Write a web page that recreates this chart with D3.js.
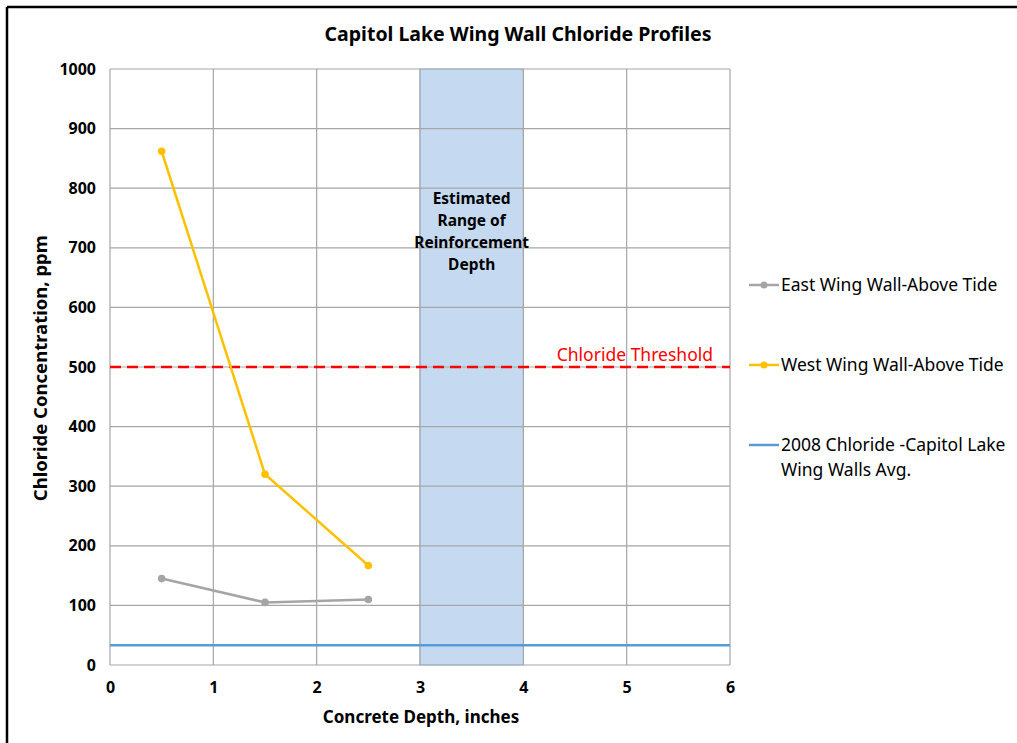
<!DOCTYPE html>
<html>
<head>
<meta charset="utf-8">
<script src="https://cdn.jsdelivr.net/npm/d3@7"></script>
<style>
  body { margin: 0; background: #fff; }
  text { font-family: "Noto Sans", "DejaVu Sans", sans-serif; }
</style>
</head>
<body>
<svg id="chart" width="1017" height="743"></svg>
<script>
//Data
var depths = [0.5, 1.5, 2.5];
var eastValues = [145, 105, 110];
var westValues = [862, 320, 167];
var avg2008 = 33;
var threshold = 500;
var bandRange = [3, 4];
var xTicks = [0, 1, 2, 3, 4, 5, 6];
var yTicks = [0, 100, 200, 300, 400, 500, 600, 700, 800, 900, 1000];
var seriesNames = ["East Wing Wall-Above Tide", "West Wing Wall-Above Tide", "2008 Chloride -Capitol Lake|Wing Walls Avg."];
var seriesColors = ["#a5a5a5", "#ffc000", "#5b9bd5"];
var bandLabel = ["Estimated", "Range of", "Reinforcement", "Depth"];

//Layout
var plot = {left: 110, right: 730, top: 69, bottom: 665};

var svg = d3.select("#chart");

// outer frame (left + top only)
svg.append("line").attr("x1", 7).attr("y1", 7).attr("x2", 1017).attr("y2", 7)
  .attr("stroke", "#000").attr("stroke-width", 2.5);
svg.append("line").attr("x1", 7).attr("y1", 7).attr("x2", 7).attr("y2", 743)
  .attr("stroke", "#000").attr("stroke-width", 2.5);

var x = d3.scaleLinear().domain([0, 6]).range([plot.left, plot.right]);
var y = d3.scaleLinear().domain([0, 1000]).range([plot.bottom, plot.top]);

// shaded reinforcement band
svg.append("rect")
  .attr("x", x(bandRange[0])).attr("y", y(1000))
  .attr("width", x(bandRange[1]) - x(bandRange[0]))
  .attr("height", y(0) - y(1000))
  .attr("fill", "#c5daf0").attr("stroke", "#9dc3e6").attr("stroke-width", 1);

// gridlines
var grid = svg.append("g");
grid.selectAll(".gx").data(xTicks).enter().append("line")
  .attr("x1", function(d){return x(d);}).attr("x2", function(d){return x(d);})
  .attr("y1", y(0)).attr("y2", y(1000))
  .attr("stroke", "#a6a6a6").attr("stroke-width", 1.2);
grid.selectAll(".gy").data(yTicks).enter().append("line")
  .attr("x1", x(0)).attr("x2", x(6))
  .attr("y1", function(d){return y(d);}).attr("y2", function(d){return y(d);})
  .attr("stroke", "#a6a6a6").attr("stroke-width", 1.2);

// axes labels via d3 axes
var xAxis = svg.append("g").attr("transform", "translate(0," + plot.bottom + ")")
  .call(d3.axisBottom(x).tickValues(xTicks).tickFormat(d3.format("d")).tickSize(0).tickPadding(17));
var yAxis = svg.append("g").attr("transform", "translate(" + plot.left + ",0)")
  .call(d3.axisLeft(y).tickValues(yTicks).tickFormat(d3.format("d")).tickSize(0).tickPadding(14));
[xAxis, yAxis].forEach(function(a){
  a.select(".domain").remove();
  a.selectAll("text").attr("font-family", "'Noto Sans', sans-serif")
    .attr("font-size", 16).attr("font-weight", "bold").attr("fill", "#000");
});

// band text
svg.append("text").attr("x", x(3.5)).attr("y", 204)
  .attr("text-anchor", "middle").attr("font-size", 15.5).attr("font-weight", "bold")
  .selectAll("tspan").data(bandLabel).enter().append("tspan")
  .attr("x", x(3.5)).attr("dy", function(d, i){return i === 0 ? 0 : 22;})
  .text(function(d){return d;});

// 2008 average line
svg.append("line").attr("x1", x(0)).attr("x2", x(6))
  .attr("y1", y(avg2008)).attr("y2", y(avg2008))
  .attr("stroke", seriesColors[2]).attr("stroke-width", 2.5);

// threshold
svg.append("line").attr("x1", x(0)).attr("x2", x(6))
  .attr("y1", y(threshold)).attr("y2", y(threshold))
  .attr("stroke", "#ff0000").attr("stroke-width", 2.5).attr("stroke-dasharray", "11,6");
svg.append("text").attr("x", 713).attr("y", y(threshold) - 6)
  .attr("text-anchor", "end").attr("font-size", 17.5).attr("fill", "#ff0000")
  .text("Chloride Threshold");

// series
var line = d3.line().x(function(d){return x(d[0]);}).y(function(d){return y(d[1]);});
[eastValues, westValues].forEach(function(vals, k){
  var pts = depths.map(function(d, i){return [d, vals[i]];});
  svg.append("path").datum(pts).attr("d", line).attr("fill", "none")
    .attr("stroke", seriesColors[k]).attr("stroke-width", 2.5);
  svg.selectAll(".m" + k).data(pts).enter().append("circle")
    .attr("cx", function(d){return x(d[0]);}).attr("cy", function(d){return y(d[1]);})
    .attr("r", 3.8).attr("fill", seriesColors[k]);
});

// legend
var legendY = [285, 365, 445];
seriesNames.forEach(function(name, i){
  var g = svg.append("g").attr("transform", "translate(749," + legendY[i] + ")");
  g.append("line").attr("x1", 0).attr("x2", 30).attr("y1", 0).attr("y2", 0)
    .attr("stroke", seriesColors[i]).attr("stroke-width", 2.5);
  if (i < 2) g.append("circle").attr("cx", 15).attr("cy", 0).attr("r", 3.5).attr("fill", seriesColors[i]);
  var t = g.append("text").attr("x", 32).attr("y", 6).attr("font-size", 17.5).attr("fill", "#000");
  name.split("|").forEach(function(part, j){
    t.append("tspan").attr("x", 32).attr("dy", j === 0 ? 0 : 25).text(part);
  });
});

// titles
svg.append("text").attr("x", 518).attr("y", 41).attr("text-anchor", "middle")
  .attr("font-size", 19.5).attr("font-weight", "bold").text("Capitol Lake Wing Wall Chloride Profiles");
svg.append("text").attr("x", 421).attr("y", 723).attr("text-anchor", "middle")
  .attr("font-size", 17).attr("font-weight", "bold").text("Concrete Depth, inches");
svg.append("text").attr("transform", "translate(47," + y(498) + ") rotate(-90)")
  .attr("text-anchor", "middle").attr("font-size", 18.5).attr("font-weight", "bold")
  .text("Chloride Concentration, ppm");
</script>
</body>
</html>
